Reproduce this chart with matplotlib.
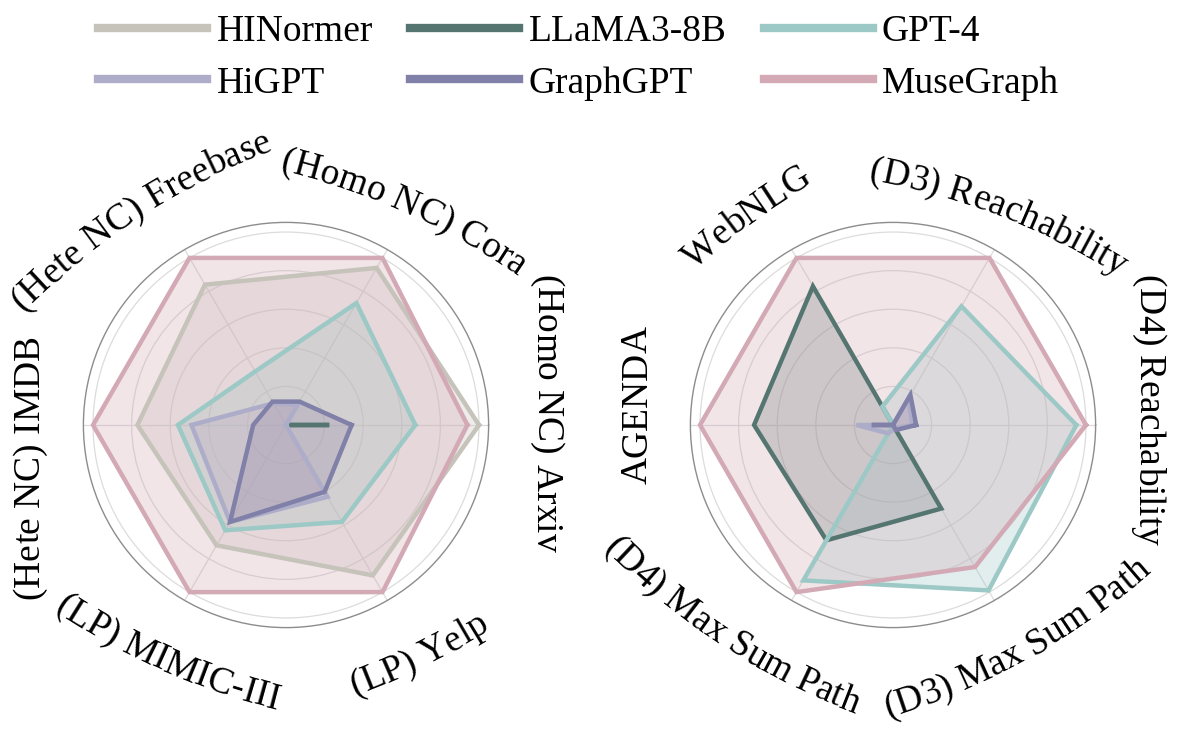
import numpy as np
import matplotlib
matplotlib.use("Agg")
import matplotlib.pyplot as plt
from matplotlib.font_manager import FontProperties, findfont, get_font
from matplotlib.ft2font import LoadFlags
from matplotlib.lines import Line2D

# ---- data (normalised per axis) ----
models = ["HINormer", "LLaMA3-8B", "GPT-4", "HiGPT", "GraphGPT", "MuseGraph"]
colors = ["#C6C3BA", "#557571", "#9CC9C5", "#ADADC9", "#8080A8", "#D3A9B5"]

left_axes = ["(Homo NC) Arxiv", "(Homo NC) Cora", "(Hete NC) Freebase",
             "(Hete NC) IMDB", "(LP) MIMIC-III", "(LP) Yelp"]
left_hinormer = [1.00, 0.94, 0.84, 0.77, 0.72, 0.90]
left_llama = [0.21, 0.00, 0.00, 0.00, 0.00, 0.00]
left_gpt4 = [0.67, 0.73, 0.32, 0.56, 0.63, 0.58]
left_higpt = [0.00, 0.12, 0.13, 0.49, 0.58, 0.43]
left_graphgpt = [0.34, 0.14, 0.14, 0.17, 0.58, 0.40]
left_musegraph = [0.94, 1.00, 1.00, 1.00, 1.00, 1.00]

right_axes = ["(D4) Reachability", "(D3) Reachability", "WebNLG",
              "AGENDA", "(D4) Max Sum Path", "(D3) Max Sum Path"]
right_hinormer = [0.00, 0.00, 0.00, 0.00, 0.00, 0.00]
right_llama = [0.00, 0.00, 0.83, 0.72, 0.69, 0.50]
right_gpt4 = [0.95, 0.71, 0.11, 0.00, 0.93, 0.99]
right_higpt = [0.10, 0.16, 0.00, 0.19, 0.05, 0.02]
right_graphgpt = [0.12, 0.18, 0.00, 0.11, 0.00, 0.03]
right_musegraph = [1.00, 1.00, 1.00, 1.00, 1.00, 0.85]

# ---- layout ----
FONT = "Liberation Serif"
plt.rcParams["font.family"] = FONT
W, H, DPI = 1181, 740, 100
RMAX = 1.05
R_AX = 202.6          # axes radius in pixels
LABEL_FS = 27

angles_deg = np.arange(6) * 60.0
theta = np.radians(angles_deg)

# label middle (angle deg, radius px), tilt of the label, bend radius (px)
left_pos = [(2.6, 263), (61.3, 255), (125.1, 266), (189.2, 263), (242.8, 263), (300.0, 266)]
left_tilt = [-90, -24, 33, 90, -24, 26]
right_pos = [(3.3, 258), (63.6, 246), (125.1, 259), (175.6, 259), (231.6, 268), (300.0, 258)]
right_tilt = [-90, -21, 36, 90, -33, 29]
bend = [1e6, 700, 700, 1e6, 700, 700]


def char_advances(text):
    font = get_font(findfont(FontProperties(family=FONT)))
    font.set_size(LABEL_FS, DPI)
    return np.array([font.load_char(ord(c), flags=LoadFlags.NO_HINTING).linearHoriAdvance / 65536
                     for c in text])


def axis_label(cx, cy, text, nominal, ang, r, tilt, rb):
    # gently curved label, drawn letter by letter
    sgn = -1 if nominal <= 180 else 1
    a = np.radians(ang)
    mid = np.array([cx + r * np.cos(a), (H - cy) + r * np.sin(a)])
    tr = np.radians(tilt)
    d = np.array([np.cos(tr), np.sin(tr)])
    n = np.array([-np.sin(tr), np.cos(tr)])
    p0 = mid - 12 * n          # baseline below the visual middle
    adv = char_advances(text)
    centres = np.cumsum(adv) - adv / 2 - adv.sum() / 2
    for c, s in zip(text, centres):
        if c == " ":
            continue
        phi = s / rb
        p = p0 + rb * np.sin(phi) * d + sgn * rb * (1 - np.cos(phi)) * n
        fig.text(p[0] / W, p[1] / H, c, rotation=tilt + sgn * np.degrees(phi),
                 rotation_mode="anchor", ha="center", va="baseline",
                 fontsize=LABEL_FS, family=FONT)


def radar(cx, cy, labels, positions, tilts, series):
    rect = [(cx - R_AX) / W, (H - cy - R_AX) / H, 2 * R_AX / W, 2 * R_AX / H]
    ax = fig.add_axes(rect, projection="polar")
    ax.set_ylim(0, RMAX)
    ax.set_rgrids([0.2, 0.4, 0.6, 0.8, 1.0], labels=[])
    ax.set_thetagrids(angles_deg, labels=[])
    ax.grid(color="#dcdcdc", linewidth=0.9)
    ax.spines["polar"].set_color("#8c8c8c")
    ax.spines["polar"].set_linewidth(1.0)
    ax.set_facecolor("none")
    th = np.append(theta, theta[0])
    for vals, col in zip(series, colors):
        v = np.append(vals, vals[0])
        ax.fill(th, v, color=col, alpha=0.3, lw=0, zorder=2)
        ax.plot(th, v, color=col, lw=3.2, zorder=3, solid_joinstyle="miter")
    for i, lab in enumerate(labels):
        ang, r = positions[i]
        axis_label(cx, cy, lab, angles_deg[i], ang, r, tilts[i], bend[i])
    return ax


fig = plt.figure(figsize=(W / DPI, H / DPI), dpi=DPI)

radar(286, 425, left_axes, left_pos, left_tilt,
      [left_hinormer, left_llama, left_gpt4, left_higpt, left_graphgpt, left_musegraph])
radar(893, 425, right_axes, right_pos, right_tilt,
      [right_hinormer, right_llama, right_gpt4, right_higpt, right_graphgpt, right_musegraph])

handles = [Line2D([], [], color=c, lw=6) for c in colors]
order = [0, 3, 1, 4, 2, 5]   # legend fills column-wise
fig.legend([handles[i] for i in order], [models[i] for i in order],
           loc="upper center", bbox_to_anchor=(0.49, 1.003), ncol=3, frameon=False,
           fontsize=LABEL_FS, handlelength=2.9, handletextpad=0.25,
           columnspacing=1.0, labelspacing=0.45, borderaxespad=0.05)

fig.savefig("out.png", dpi=DPI)
